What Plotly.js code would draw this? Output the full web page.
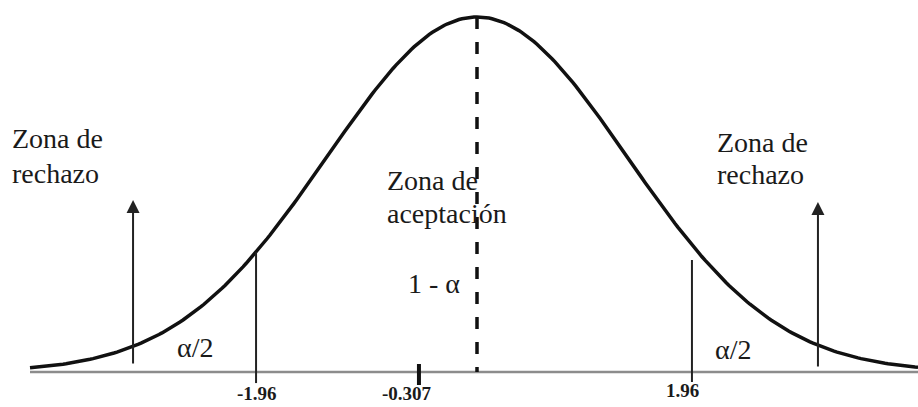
<!DOCTYPE html>
<html>
<head>
<meta charset="utf-8">
<script src="https://cdn.plot.ly/plotly-3.0.1.min.js"></script>
<style>
  html, body { margin: 0; padding: 0; background: #fff; }
  #chart { width: 918px; height: 407px; }
</style>
</head>
<body>
<div id="chart"></div>
<script>
// Standard normal curve, drawn in z units
const mean = 0;
const sd = 1;
const curveStart = -2.98;
const curveEnd = 2.94;

// Critical value lines (where they sit on the sketch) and how high they go
const critPos = [-1.473, 1.433];
const critTop = [0.1348, 0.1259];
const critBottom = [-0.0124, -0.0112];

// Rejection-zone arrows
const arrowPos = [-2.293, 2.273];
const arrowTail = [0.0079, 0.0045];
const arrowTip = [0.1933, 0.1910];

// Sample statistic mark
const statPos = -0.387;
const statRange = [0.009, -0.0146];

// Axis labels
const tickText = ["-1.96", "-0.307", "1.96"];
const tickLabelPos = [-1.467, -0.467, 1.367];
const tickLabelY = [-0.0236, -0.0236, -0.0213];

function pdf(z) {
  return Math.exp(-0.5 * ((z - mean) / sd) ** 2) / (sd * Math.sqrt(2 * Math.PI));
}

const xs = [];
for (let z = curveStart; z <= curveEnd + 1e-9; z += 0.02) xs.push(+z.toFixed(3));
const ys = xs.map(pdf);

const traces = [
  // base line
  { x: [curveStart, curveEnd], y: [0, 0], mode: "lines",
    line: { color: "#8c8c8c", width: 2.5 }, hoverinfo: "skip" },
  // density
  { x: xs, y: ys, mode: "lines", line: { color: "#111", width: 3.5 }, hoverinfo: "skip" },
  // mean dashed line
  { x: [mean, mean], y: [pdf(mean), 0], mode: "lines",
    line: { color: "#111", width: 3.5, dash: "12px,13px" }, hoverinfo: "skip" },
  // statistic mark
  { x: [statPos, statPos], y: statRange, mode: "lines",
    line: { color: "#111", width: 4 }, hoverinfo: "skip" }
];

critPos.forEach((p, i) => {
  traces.push({ x: [p, p], y: [critBottom[i], critTop[i]], mode: "lines",
    line: { color: "#222", width: 2 }, hoverinfo: "skip" });
});

const serif = "Liberation Serif";
const txt = { family: serif, size: 28, color: "#1a1a1a" };

const annotations = [];

arrowPos.forEach((p, i) => {
  annotations.push({
    x: p, y: arrowTip[i], ax: p, ay: arrowTail[i],
    xref: "x", yref: "y", axref: "x", ayref: "y",
    text: "", showarrow: true, arrowhead: 2, arrowsize: 1.3,
    arrowwidth: 2, arrowcolor: "#222", standoff: 0, startstandoff: 0
  });
});

tickText.forEach((t, i) => {
  annotations.push({
    x: tickLabelPos[i], y: tickLabelY[i], xref: "x", yref: "y",
    text: "<b>" + t + "</b>", showarrow: false, xanchor: "center", yanchor: "middle",
    font: { family: serif, size: 19, color: "#1a1a1a" }
  });
});

// text placed in pixels of the picture (x = left edge, y = middle of the line)
const px = (x, y, text) => ({
  x: x / 918, y: 1 - y / 407, xref: "paper", yref: "paper",
  text, showarrow: false, xanchor: "left", yanchor: "middle",
  font: txt
});

annotations.push(
  px(10, 138, "Zona de"),
  px(10, 173, "rechazo"),
  px(715, 142, "Zona de"),
  px(715, 175, "rechazo"),
  px(385, 180, "Zona de"),
  px(385, 213, "aceptación"),
  px(406, 283, "1 - α"),
  px(175, 347, "α/2"),
  px(713, 349, "α/2")
);

const layout = {
  width: 918, height: 407,
  margin: { l: 0, r: 0, t: 0, b: 0 },
  paper_bgcolor: "#fff", plot_bgcolor: "#fff",
  showlegend: false,
  xaxis: { range: [-3.18, 2.94], visible: false, fixedrange: true },
  yaxis: { range: [-0.0393, 0.4180], visible: false, fixedrange: true },
  annotations
};

Plotly.newPlot("chart", traces, layout, { staticPlot: true, displayModeBar: false });
</script>
</body>
</html>
